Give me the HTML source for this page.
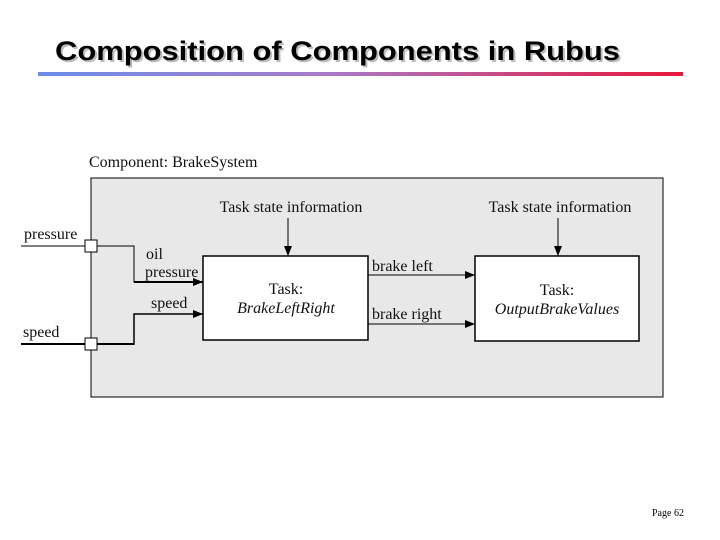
<!DOCTYPE html>
<html><head><style>
html,body{margin:0;padding:0;background:#fff;}
svg{display:block;}
.t{font-family:"Liberation Serif",serif;font-size:16px;fill:#111;}
</style></head><body>
<svg width="720" height="540" viewBox="0 0 720 540" xmlns="http://www.w3.org/2000/svg">
<defs>
<linearGradient id="g" x1="0" x2="1" y1="0" y2="0">
<stop offset="0" stop-color="#6a8ee8"/><stop offset="0.45" stop-color="#a87ac8"/><stop offset="1" stop-color="#e8163a"/>
</linearGradient>
<marker id="a" markerWidth="10" markerHeight="8" refX="10" refY="4" orient="auto" markerUnits="userSpaceOnUse">
<path d="M0,0 L10,4 L0,8 Z" fill="#000"/></marker>
</defs>
<text x="57" y="62" font-family="Liberation Sans,sans-serif" font-weight="bold" font-size="27" fill="#bbb" textLength="565" lengthAdjust="spacingAndGlyphs">Composition of Components in Rubus</text>
<text x="55" y="60" font-family="Liberation Sans,sans-serif" font-weight="bold" font-size="27" fill="#000" textLength="565" lengthAdjust="spacingAndGlyphs">Composition of Components in Rubus</text>
<rect x="38" y="72" width="645" height="4" fill="url(#g)"/>

<text class="t" x="89" y="167">Component: BrakeSystem</text>
<rect x="91" y="178" width="572" height="219" fill="#e8e8e8" stroke="#000" stroke-width="1"/>

<rect x="203" y="256" width="165" height="84" fill="#fff" stroke="#000" stroke-width="1.5"/>
<rect x="475" y="256" width="164" height="85" fill="#fff" stroke="#000" stroke-width="1.5"/>

<text class="t" x="291" y="212" text-anchor="middle">Task state information</text>
<text class="t" x="560" y="212" text-anchor="middle">Task state information</text>
<line x1="288" y1="218" x2="288" y2="256" stroke="#000" marker-end="url(#a)"/>
<line x1="558" y1="218" x2="558" y2="256" stroke="#000" marker-end="url(#a)"/>

<text class="t" x="286" y="294" text-anchor="middle">Task:</text>
<text class="t" x="286" y="313" text-anchor="middle" font-style="italic">BrakeLeftRight</text>
<text class="t" x="557" y="295" text-anchor="middle">Task:</text>
<text class="t" x="557" y="314" text-anchor="middle" font-style="italic">OutputBrakeValues</text>

<text class="t" x="24" y="239">pressure</text>
<text class="t" x="23" y="337">speed</text>
<line x1="21" y1="246" x2="91" y2="246" stroke="#000"/>
<line x1="21" y1="344" x2="91" y2="344" stroke="#000" stroke-width="2"/>
<polyline points="97,246 134,246 134,282 201,282" fill="none" stroke="#000" stroke-width="1"/>
<line x1="134" y1="282" x2="203" y2="282" stroke="#000" stroke-width="2" marker-end="url(#a)"/>
<polyline points="97,344 134,344 134,314 203,314" fill="none" stroke="#000" stroke-width="1.5" marker-end="url(#a)"/>
<line x1="97" y1="344" x2="134" y2="344" stroke="#000" stroke-width="2"/>
<rect x="85" y="240" width="12" height="12" fill="#fff" stroke="#000"/>
<rect x="85" y="338" width="12" height="12" fill="#fff" stroke="#000"/>

<text class="t" x="146" y="259">oil</text>
<text class="t" x="145" y="277">pressure</text>
<text class="t" x="151" y="308">speed</text>

<line x1="368" y1="275" x2="475" y2="275" stroke="#000" marker-end="url(#a)"/>
<line x1="368" y1="324" x2="475" y2="324" stroke="#000" marker-end="url(#a)"/>
<text class="t" x="372" y="271">brake left</text>
<text class="t" x="372" y="319">brake right</text>

<text x="652" y="516" font-family="Liberation Serif,serif" font-size="10" fill="#000">Page 62</text>
</svg>
</body></html>
